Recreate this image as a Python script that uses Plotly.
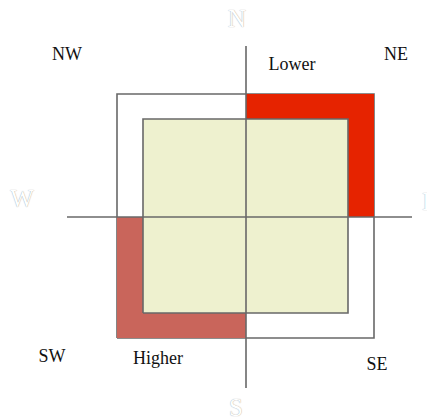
import plotly.graph_objects as go

# square sizes (half-widths around the centre), in chart units
outer_x = [-129, 128]
outer_y = [-121, 123]
inner_x = [-103, 102]
inner_y = [-96, 98]
axis_x = [-179, 166]
axis_y = [-171, 171]

# corner / band labels
corner_labels = ['NW', 'NE', 'SW', 'SE']
corner_x = [-179, 150, -194, 131]
corner_y = [162, 162, -140, -148]
band_labels = ['Lower', 'Higher']
band_x = [46, -88]
band_y = [152, -142]
compass_labels = ['N', 'W', 'E', 'S']
compass_x = [-9, -224, 184, -10]
compass_y = [196, 16, 13, -193]

RED = '#E62300'
DULL_RED = '#C9655B'
PALE = '#EEF1CF'
LINE = '#686868'
FONT = 'Liberation Serif'


def rect(xs, ys):
    return [xs[0], xs[1], xs[1], xs[0], xs[0]], [ys[0], ys[0], ys[1], ys[1], ys[0]]


fig = go.Figure()

# outer square outline
ox, oy = rect(outer_x, outer_y)
fig.add_trace(go.Scatter(x=ox, y=oy, mode='lines',
                         line=dict(color=LINE, width=1.6)))

# NE band (lower)
fig.add_trace(go.Scatter(
    x=[0, outer_x[1], outer_x[1], inner_x[1], inner_x[1], 0, 0],
    y=[outer_y[1], outer_y[1], 0, 0, inner_y[1], inner_y[1], outer_y[1]],
    mode='lines', fill='toself', fillcolor=RED, line=dict(width=0),
))

# SW band (higher)
fig.add_trace(go.Scatter(
    x=[outer_x[0], inner_x[0], inner_x[0], 0, 0, outer_x[0], outer_x[0]],
    y=[0, 0, inner_y[0], inner_y[0], outer_y[0], outer_y[0], 0],
    mode='lines', fill='toself', fillcolor=DULL_RED, line=dict(width=0),
))

# inner square
ix, iy = rect(inner_x, inner_y)
fig.add_trace(go.Scatter(x=ix, y=iy, mode='lines', fill='toself',
                         fillcolor=PALE, line=dict(color=LINE, width=1.6)))

# cross axes
fig.add_trace(go.Scatter(x=axis_x, y=[0, 0], mode='lines',
                         line=dict(color=LINE, width=1.6)))
fig.add_trace(go.Scatter(x=[0, 0], y=axis_y, mode='lines',
                         line=dict(color=LINE, width=1.6)))

fig.add_trace(go.Scatter(
    x=corner_x + band_x, y=corner_y + band_y, mode='text',
    text=corner_labels + band_labels,
    textfont=dict(family=FONT, size=18, color='#111111'),
))
# compass points: white letters with a faint grey edge
fig.add_trace(go.Scatter(
    x=compass_x, y=compass_y, mode='text', text=compass_labels,
    cliponaxis=False,
    textfont=dict(family=FONT, size=25, color='#FFFFFF',
                  shadow='0 0 1px #8a8a8a'),
))

# the page body has an 8px margin, so the figure is 8px smaller and the
# ranges start 8px in
fig.update_xaxes(range=[-238, 189], visible=False, fixedrange=True)
fig.update_yaxes(range=[-200, 209], visible=False, fixedrange=True)
fig.update_layout(
    width=427, height=409,
    margin=dict(l=0, r=0, t=0, b=0),
    showlegend=False,
    plot_bgcolor='white', paper_bgcolor='white',
)

fig.write_html('out.html')
